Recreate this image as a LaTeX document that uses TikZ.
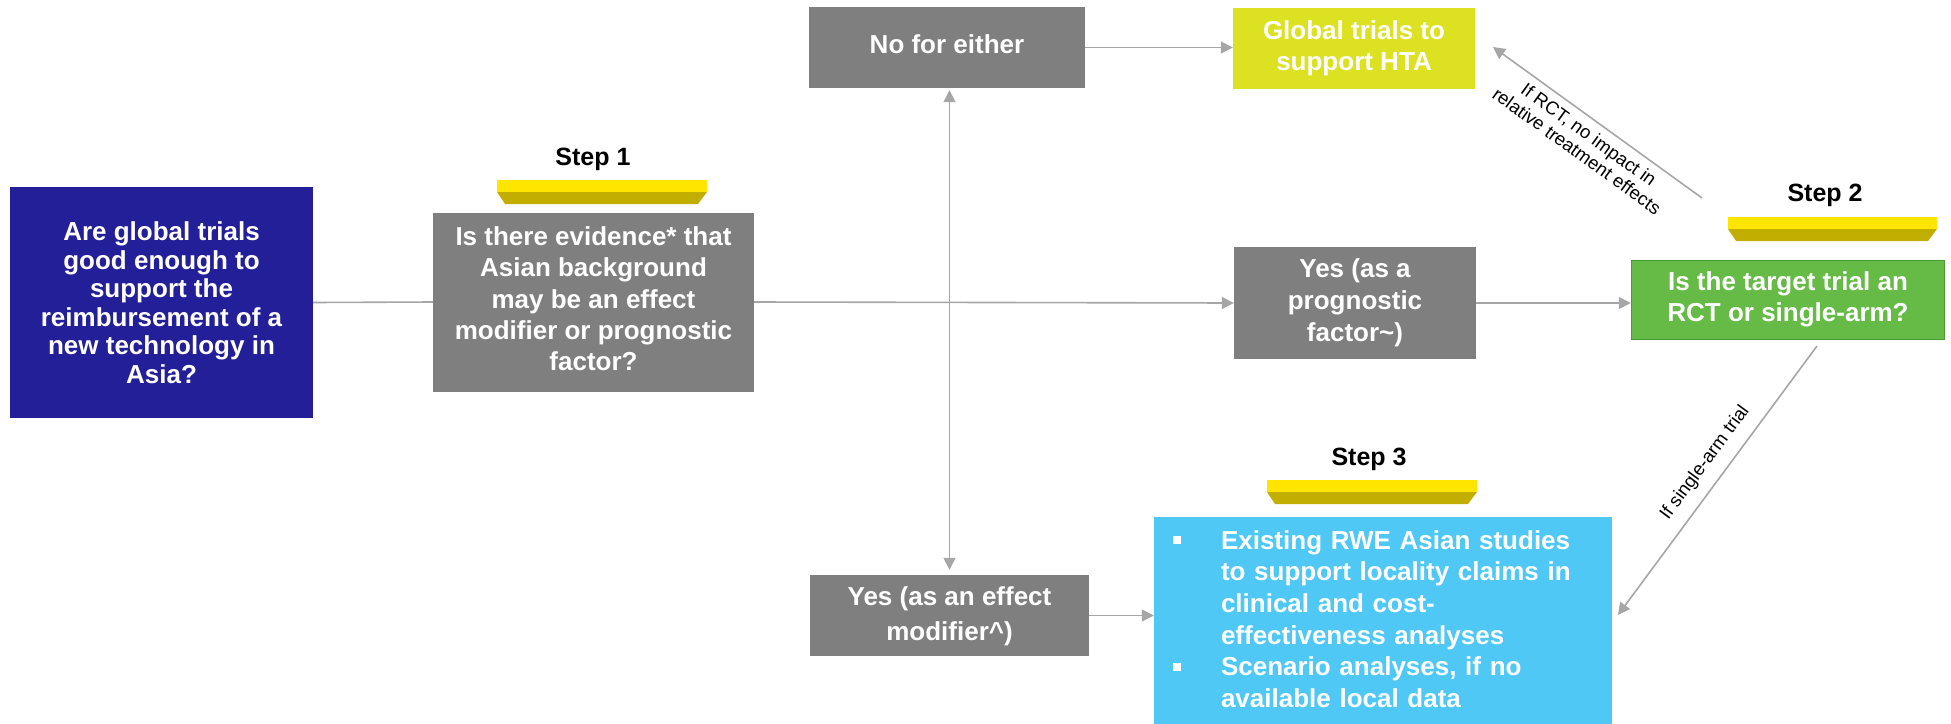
\documentclass[tikz,border=0pt]{standalone}
\usepackage{fontspec}
\setmainfont{Liberation Sans}
\usetikzlibrary{arrows.meta}
\definecolor{navybox}{HTML}{231F99}
\definecolor{greybox}{HTML}{7F7F7F}
\definecolor{limebox}{HTML}{DCE122}
\definecolor{greenbox}{HTML}{66BB46}
\definecolor{greenedge}{HTML}{4F9A33}
\definecolor{skybox}{HTML}{4FC8F5}
\definecolor{linegrey}{HTML}{A6A6A6}
\definecolor{baryellow}{HTML}{FFE500}
\definecolor{bardark}{HTML}{C2AE00}
% yellow bevelled bar under each step title
\newcommand\stepbar[3]{%
  \fill[baryellow] (#1,#3) rectangle (#2,{#3+12});
  \fill[bardark] (#1,{#3+12}) -- (#2,{#3+12}) -- ({#2-9},{#3+24}) -- ({#1+8},{#3+24}) -- cycle;}
% centred lines of box text, lowered by #1
\newcommand\boxlines[2]{\raisebox{-#1}{\begin{tabular}{@{}c@{}}#2\end{tabular}}}
\begin{document}
\begin{tikzpicture}[x=1pt,y=-1pt,
  box/.style={text=white, align=center, inner sep=0pt,
    font=\fontsize{26}{31}\selectfont\bfseries},
  greyq/.style={box, fill=greybox},
  steplabel/.style={font=\fontsize{25}{30}\selectfont\bfseries, inner sep=0pt},
  arr/.style={draw=linegrey, line width=1.6pt, -{Triangle[length=12pt,width=12pt]}},
  plain/.style={draw=linegrey, line width=1.6pt},
  lbl/.style={font=\fontsize{18.5}{20.5}\selectfont, align=center, inner sep=0pt}]
\useasboundingbox (0,0) rectangle (1951,723);

% question boxes
\node[box, fill=navybox, minimum width=303pt, minimum height=231pt,
  font=\fontsize{26}{28.5}\selectfont\bfseries] (asia) at (161.5,302.5)
  {Are global trials\\good enough to\\support the\\reimbursement of a\\new technology in\\Asia?};
\node[greyq, minimum width=321pt, minimum height=179pt,
  font=\fontsize{26}{31.3}\selectfont\bfseries] (evid) at (593.5,302)
  {\boxlines{1pt}{Is there evidence* that\\Asian background\\may be an effect\\modifier or prognostic\\factor?}};
\node[greyq, minimum width=276pt, minimum height=81pt] (nofor) at (947,47.5)
  {\boxlines{3pt}{No for either}};
\node[box, fill=limebox, minimum width=242pt, minimum height=81pt] (global) at (1354,48.5)
  {\boxlines{3.5pt}{Global trials to\\support HTA}};
\node[greyq, minimum width=242pt, minimum height=112pt,
  font=\fontsize{26}{31.7}\selectfont\bfseries] (prog) at (1355,303)
  {\boxlines{1pt}{Yes (as a\\prognostic\\factor\textasciitilde)}};
\node[box, fill=greenbox, draw=greenedge, line width=1.5pt,
  minimum width=313pt, minimum height=79pt] (target) at (1788,300)
  {\boxlines{6pt}{Is the target trial an\\RCT or single-arm?}};
\node[greyq, minimum width=279pt, minimum height=81pt,
  font=\fontsize{26}{35}\selectfont\bfseries] (effmod) at (949.5,615.5)
  {\boxlines{5pt}{Yes (as an effect\\modifier\textasciicircum)}};
\node[box, fill=skybox, minimum width=458pt, minimum height=210pt,
  text width=420pt, inner xsep=19pt, align=left,
  font=\fontsize{26}{31.6}\selectfont\bfseries] (rwe) at (1383,622)
  {\begin{tabular}{@{}p{48pt}@{}l@{}}
   \rule[5pt]{8pt}{8pt} & Existing RWE Asian studies\\
   & to support locality claims in\\
   & clinical and cost-\\
   & effectiveness analyses\\
   \rule[5pt]{8pt}{8pt} & Scenario analyses, if no\\
   & available local data
   \end{tabular}};

% step titles and bars
\stepbar{497}{707}{180}
\stepbar{1728}{1937}{217}
\stepbar{1267}{1477}{480}
\node[steplabel] (s1) at (593,159) {Step 1};
\node[steplabel] (s2) at (1825,195) {Step 2};
\node[steplabel] (s3) at (1369,459) {Step 3};

% connectors
\draw[plain] (asia.east) -- (evid.west);
\draw[arr] (evid.east) -- (prog.west);
\draw[arr] (prog.east) -- (target.west |- prog.east);
\draw[arr] (nofor.east) -- (global.west |- nofor.east);
\draw[arr] (effmod.east) -- (rwe.west |- effmod.east);
\draw[arr, {Triangle[length=12pt,width=12pt]}-{Triangle[length=12pt,width=12pt]}]
  ([yshift=-2pt]effmod.north |- nofor.south) -- ([yshift=5pt]effmod.north);

\coordinate (rctS) at (1702,198);
\coordinate (rctT) at (1493,47);
\draw[arr] (rctS) -- node[lbl, sloped, below=7pt] {If RCT, no impact in\\relative treatment effects} (rctT);
\coordinate (armS) at (1817,346);
\coordinate (armT) at (1618,615);
\draw[arr] (armS) -- node[lbl, sloped, above=11pt, pos=0.48] {If single-arm trial} (armT);
\end{tikzpicture}
\end{document}
